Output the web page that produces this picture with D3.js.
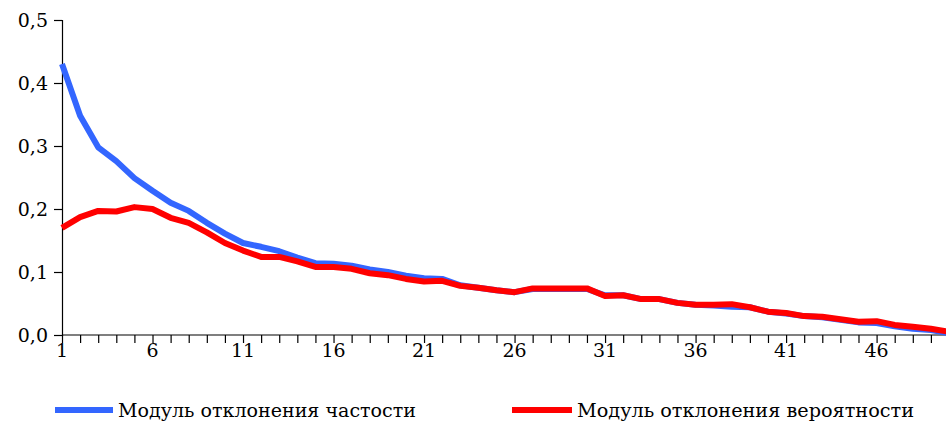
<!DOCTYPE html>
<html>
<head>
<meta charset="utf-8">
<script src="https://cdn.jsdelivr.net/npm/d3@7"></script>
<style>
    html, body { margin: 0; padding: 0; background: #fff; }
    svg text { fill: #000; }
</style>
</head>
<body>
<div id="chart"></div>
<script>
// chart values
var categories = d3.range(1, 51);
var tickLabels = [1, 6, 11, 16, 21, 26, 31, 36, 41, 46];
var yTicks = [0, 0.1, 0.2, 0.3, 0.4, 0.5];
var seriesNames = ['Модуль отклонения частости', 'Модуль отклонения вероятности'];
var freqDev = [
    0.430, 0.348, 0.298, 0.276, 0.249, 0.229, 0.210, 0.197, 0.178, 0.161,
    0.146, 0.140, 0.133, 0.123, 0.114, 0.113, 0.110, 0.104, 0.100, 0.094,
    0.090, 0.089, 0.079, 0.075, 0.071, 0.068, 0.073, 0.073, 0.073, 0.073,
    0.063, 0.063, 0.057, 0.057, 0.051, 0.048, 0.047, 0.045, 0.044, 0.037,
    0.034, 0.030, 0.028, 0.024, 0.020, 0.019, 0.014, 0.010, 0.008, 0.003
];
var probDev = [
    0.170, 0.187, 0.197, 0.196, 0.203, 0.200, 0.186, 0.178, 0.163, 0.146,
    0.134, 0.124, 0.124, 0.117, 0.108, 0.108, 0.105, 0.098, 0.095, 0.089,
    0.085, 0.086, 0.078, 0.075, 0.071, 0.068, 0.074, 0.074, 0.074, 0.074,
    0.062, 0.063, 0.057, 0.057, 0.051, 0.048, 0.048, 0.049, 0.044, 0.037,
    0.035, 0.030, 0.029, 0.025, 0.021, 0.022, 0.016, 0.013, 0.010, 0.005
];

var _blue = '#3366FF',
    _red = '#FF0000',
    _font = '"DejaVu Serif", serif';

var _width = 946,
    _height = 423;

var _svg = d3.select('#chart').append('svg')
    .attr('width', _width)
    .attr('height', _height)
    .style('font-family', _font);

var _x = d3.scaleLinear().domain([1, 50]).range([62, 949]);
var _y = d3.scaleLinear().domain([0, 0.5]).range([335, 20]);

var fmt = function (d) { return d3.format('.1f')(d).replace('.', ','); };

// y axis
var yAxis = _svg.append('g')
    .attr('transform', 'translate(62,0)')
    .call(d3.axisLeft(_y).tickValues(yTicks).tickSize(8).tickPadding(6).tickFormat(fmt));
yAxis.attr('font-family', null).attr('font-size', null);
yAxis.select('.domain').attr('stroke', '#000').attr('stroke-width', 1.2);
yAxis.selectAll('.tick line').attr('stroke', '#000').attr('stroke-width', 1.2);
yAxis.selectAll('.tick text')
    .style('font-family', _font)
    .style('font-size', '19px')
    .attr('fill', '#000')
    .attr('dy', '0.33em');

// x axis
var xAxis = _svg.append('g')
    .attr('transform', 'translate(0,335)')
    .call(d3.axisBottom(_x).tickValues(categories).tickSize(8).tickFormat(''));
xAxis.select('.domain').attr('stroke', '#000').attr('stroke-width', 1.2)
    .attr('d', 'M' + _x(1) + ',0H' + _width);
xAxis.selectAll('.tick line').attr('stroke', '#000').attr('stroke-width', 1.2);

_svg.append('g').selectAll('text')
    .data(tickLabels)
    .enter()
    .append('text')
    .attr('x', function (d) { return _x(d); })
    .attr('y', 357)
    .attr('text-anchor', 'middle')
    .style('font-family', _font)
    .style('font-size', '19px')
    .text(function (d) { return d; });

// lines
var line = d3.line()
    .x(function (d, i) { return _x(categories[i]); })
    .y(function (d) { return _y(d); });

_svg.append('path')
    .datum(freqDev)
    .attr('fill', 'none')
    .attr('stroke', _blue)
    .attr('stroke-width', 6)
    .attr('stroke-linejoin', 'round')
    .attr('d', line);

_svg.append('path')
    .datum(probDev)
    .attr('fill', 'none')
    .attr('stroke', _red)
    .attr('stroke-width', 6)
    .attr('stroke-linejoin', 'round')
    .attr('d', line);

// legend
var legend = [
    { name: seriesNames[0], color: _blue, x0: 55, x1: 113, tx: 118, tw: 298 },
    { name: seriesNames[1], color: _red, x0: 512, x1: 572, tx: 577, tw: 337 }
];
var lg = _svg.append('g').selectAll('g')
    .data(legend)
    .enter()
    .append('g');
lg.append('line')
    .attr('x1', function (d) { return d.x0; })
    .attr('x2', function (d) { return d.x1; })
    .attr('y1', 410)
    .attr('y2', 410)
    .attr('stroke', function (d) { return d.color; })
    .attr('stroke-width', 6);
lg.append('text')
    .attr('x', function (d) { return d.tx; })
    .attr('y', 417)
    .style('font-family', _font)
    .style('font-size', '19px')
    .attr('textLength', function (d) { return d.tw; })
    .attr('lengthAdjust', 'spacingAndGlyphs')
    .text(function (d) { return d.name; });
</script>
</body>
</html>
